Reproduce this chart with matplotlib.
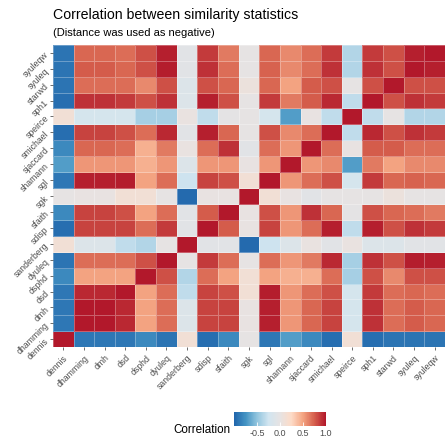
import numpy as np
import matplotlib
import matplotlib.pyplot as plt
from matplotlib.colors import LinearSegmentedColormap

plt.rcParams["font.family"] = ["Liberation Sans", "DejaVu Sans"]

labels = ["dennis", "dhamming", "dmh", "dsd", "dsphd", "dyuleq", "sanderberg",
          "sdisp", "sfaith", "sgk", "sgl", "shamann", "sjaccard", "smichael",
          "speirce", "sph1", "starwd", "syuleq", "syuleqw"]

# correlation rows, same order as labels (row 0 = dennis)
dennis = [1, -0.9, -0.9, -0.9, -0.8, -0.92, 0.12, -0.95, -0.8, 0, -0.9, -0.7, -0.8, -0.95, 0.12, -0.95, -0.92, -0.92, -0.92]
dhamming = [-0.9, 1, 1, 0.94, 0.5, 0.7, -0.12, 0.85, 0.85, 0.02, 0.97, 0.55, 0.72, 0.85, -0.2, 0.91, 0.7, 0.76, 0.72]
dmh = [-0.9, 1, 1, 0.94, 0.5, 0.7, -0.12, 0.85, 0.85, 0.02, 0.97, 0.55, 0.72, 0.85, -0.2, 0.91, 0.7, 0.76, 0.72]
dsd = [-0.9, 0.94, 0.94, 1, 0.5, 0.7, -0.32, 0.85, 0.8, 0.12, 0.98, 0.55, 0.7, 0.8, -0.2, 0.88, 0.7, 0.72, 0.7]
dsphd = [-0.8, 0.5, 0.5, 0.5, 1, 0.8, -0.37, 0.7, 0.5, 0.12, 0.5, 0.45, 0.45, 0.7, -0.42, 0.8, 0.6, 0.8, 0.8]
dyuleq = [-0.92, 0.7, 0.7, 0.7, 0.8, 1, 0, 0.88, 0.7, 0, 0.7, 0.55, 0.65, 0.94, -0.42, 0.91, 0.8, 0.98, 0.97]
sanderberg = [0.12, -0.12, -0.12, -0.32, -0.37, 0, 1, -0.06, -0.06, -0.97, -0.26, -0.12, 0.03, -0.06, 0.03, -0.12, -0.12, -0.06, -0.06]
sdisp = [-0.95, 0.85, 0.85, 0.85, 0.7, 0.88, -0.06, 1, 0.76, 0.02, 0.85, 0.55, 0.7, 0.97, -0.32, 0.97, 0.8, 0.91, 0.88]
sfaith = [-0.8, 0.85, 0.85, 0.8, 0.5, 0.7, -0.06, 0.76, 1, 0.02, 0.8, 0.55, 0.91, 0.72, -0.02, 0.8, 0.72, 0.7, 0.65]
sgk = [0, 0.02, 0.02, 0.12, 0.12, 0, -0.97, 0.02, 0.02, 1, 0.12, 0.02, -0.06, 0, 0, 0, 0.06, 0, 0]
sgl = [-0.9, 0.97, 0.97, 0.98, 0.5, 0.7, -0.26, 0.85, 0.8, 0.12, 1, 0.55, 0.7, 0.8, -0.2, 0.88, 0.72, 0.74, 0.72]
shamann = [-0.7, 0.55, 0.55, 0.55, 0.45, 0.55, -0.12, 0.55, 0.55, 0.02, 0.55, 1, 0.55, 0.6, -0.7, 0.65, 0.5, 0.6, 0.6]
sjaccard = [-0.8, 0.72, 0.72, 0.7, 0.45, 0.65, 0.03, 0.7, 0.91, -0.06, 0.7, 0.55, 1, 0.7, 0.02, 0.76, 0.76, 0.7, 0.7]
smichael = [-0.95, 0.85, 0.85, 0.8, 0.7, 0.94, -0.06, 0.97, 0.72, 0, 0.8, 0.6, 0.7, 1, -0.32, 0.94, 0.8, 0.91, 0.88]
speirce = [0.12, -0.2, -0.2, -0.2, -0.42, -0.42, 0.03, -0.32, -0.02, 0, -0.2, -0.7, 0.02, -0.32, 1, -0.32, 0, -0.37, -0.37]
sph1 = [-0.95, 0.91, 0.91, 0.88, 0.8, 0.91, -0.12, 0.97, 0.8, 0, 0.88, 0.65, 0.76, 0.94, -0.32, 1, 0.8, 0.91, 0.88]
starwd = [-0.92, 0.7, 0.7, 0.7, 0.6, 0.8, -0.12, 0.8, 0.72, 0.06, 0.72, 0.5, 0.76, 0.8, 0, 0.8, 1, 0.8, 0.8]
syuleq = [-0.92, 0.76, 0.76, 0.72, 0.8, 0.98, -0.06, 0.91, 0.7, 0, 0.74, 0.6, 0.7, 0.91, -0.37, 0.91, 0.8, 1, 0.97]
syuleqw = [-0.92, 0.72, 0.72, 0.7, 0.8, 0.97, -0.06, 0.88, 0.65, 0, 0.72, 0.6, 0.7, 0.88, -0.37, 0.88, 0.8, 0.97, 1]

corr = np.array([dennis, dhamming, dmh, dsd, dsphd, dyuleq, sanderberg, sdisp,
                 sfaith, sgk, sgl, shamann, sjaccard, smichael, speirce, sph1,
                 starwd, syuleq, syuleqw])

cmap = LinearSegmentedColormap.from_list("rdbu_grey", [
    "#2166AC", "#4393C3", "#92C5DE", "#D1E5F0", "#E6E3E3",
    "#FDDBC7", "#F4A582", "#D6604D", "#B2182B"])

fig = plt.figure(figsize=(4.45, 4.44), dpi=100)
ax = fig.add_axes([0.119, 0.218, 0.881, 0.681])

n = len(labels)
mesh = ax.pcolormesh(np.arange(n + 1), np.arange(n + 1), corr, cmap=cmap,
                     vmin=-1, vmax=1, edgecolors=(1, 1, 1, 0.3), linewidth=0.4)
ax.set_xlim(0, n)
ax.set_ylim(0, n)
for s in ax.spines.values():
    s.set_visible(False)

ticks = np.arange(n) + 0.5
ax.set_xticks(ticks)
ax.set_yticks(ticks)
ax.set_xticklabels(labels, rotation=45, ha="right", rotation_mode="anchor",
                   fontsize=6.3, color="#4D4D4D")
ax.set_yticklabels(labels, rotation=45, ha="right", rotation_mode="anchor",
                   fontsize=6.3, color="#4D4D4D")
ax.tick_params(length=2.5, width=0.5, color="#333333", pad=2)

fig.text(0.119, 0.967, "Correlation between similarity statistics",
         fontsize=10.2, va="center", ha="left", color="black")
fig.text(0.119, 0.925, "(Distance was used as negative)",
         fontsize=8, va="center", ha="left", color="black")

cax = fig.add_axes([0.526, 0.041, 0.206, 0.032])
cb = fig.colorbar(mesh, cax=cax, orientation="horizontal",
                  ticks=[-0.5, 0.0, 0.5, 1.0])
cb.outline.set_visible(False)
cb.ax.tick_params(length=3, width=0.6, color="white", direction="in",
                  labelsize=6.5, labelcolor="#4D4D4D", pad=2)
cb.ax.set_xticklabels(["-0.5", "0.0", "0.5", "1.0"])
fig.text(0.389, 0.032, "Correlation", fontsize=8.4, va="center", ha="left")

fig.savefig("out.png", dpi=100)
